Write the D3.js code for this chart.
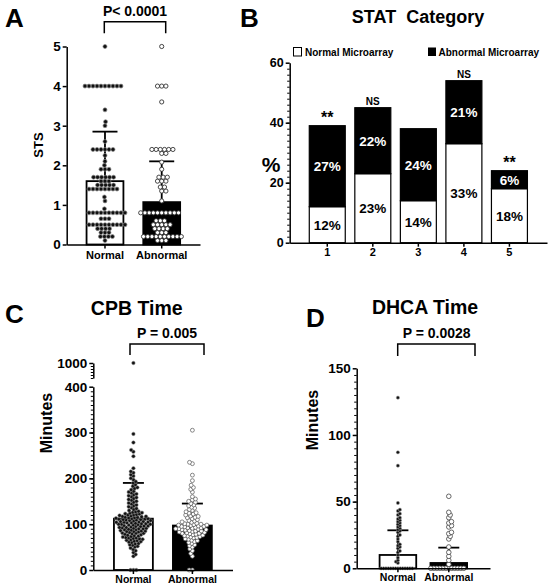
<!DOCTYPE html>
<html>
<head>
<meta charset="utf-8">
<script src="https://cdn.jsdelivr.net/npm/d3@7"></script>
<style>
  body { margin: 0; background: #fff; }
  svg { display: block; }
</style>
</head>
<body>
<svg id="chart" width="550" height="587"></svg>
<script>
// ---- data ----
const groups = ["Normal", "Abnormal"];

// A: STS
const stsNormal = [5, 4,4,4,4,4,4,4,4,4,4, 3.4, 3.1, 3.0, 2.6, 2.4,2.4,2.4,2.4,2.4,2.4, 2.25, 2.1, 2.0,
  1.9,1.9,1.9, 1.7,1.7,1.7,1.7,1.7,1.7, 1.6,1.6,1.6, 1.5,1.5,1.5,1.5,1.5, 1.4,1.4,1.4,1.4,1.4,1.4,1.4,1.4,
  1.2, 1.1, 0.9, 0.8,0.8,0.8,0.8,0.8,0.8,0.8,0.8,0.8,0.8, 0.65,0.65,0.65,
  0.5,0.5,0.5,0.5,0.5,0.5,0.5,0.5,0.5,0.5, 0.4,0.4,0.4,0.4, 0.3,0.3,0.3, 0.2,0.2,0.2,0.2, 0.1];
const stsAbnormal = [5, 4,4,4, 3.6, 2.4,2.4,2.4,2.4,2.4,2.4, 2.3,2.3, 2.08, 1.9, 1.7,1.7,1.7, 1.6,1.6,1.6,
  1.45,1.45, 1.35,1.35, 1.1, 0.8,0.8,0.8,0.8,0.8,0.8,0.8,0.8,0.8,0.8, 0.6,0.6,0.6, 0.5,0.5,0.5,0.5,0.5,
  0.4,0.4,0.4,0.4, 0.3,0.3,0.3, 0.2,0.2,0.2,0.2,0.2,0.2,0.2,0.2,0.2,0.2, 0.1,0.1,0.1];
const stsMean = [1.6, 1.07];
const stsSD = [1.25, 1.03];
const stsTicks = [0, 1, 2, 3, 4, 5];

// B: STAT category
const statCats = ["1", "2", "3", "4", "5"];
const statNormal = [12, 23, 14, 33, 18];
const statAbnormal = [27, 22, 24, 21, 6];
const statSig = ["**", "NS", "", "NS", "**"];
const statTicks = [0, 20, 40, 60];

// C: CPB time
const cpbNormal = [0, 0, 0,
  30, 34, 38, 42, 45, 48, 50, 52, 54, 55, 57, 58, 60, 61, 62, 63, 64, 65, 66, 67, 68, 69, 70, 70, 71, 72, 73,
  74, 75, 76, 77, 78, 79, 80, 80, 81, 82, 83, 84, 84, 85, 85, 86, 87, 88, 88, 89, 90, 90, 91, 91, 92, 93, 93,
  94, 95, 95, 96, 96, 97, 98, 98, 99, 100, 100, 100, 101, 101, 102, 103, 103, 104, 104, 105, 105, 106, 106,
  107, 108, 108, 109, 109, 110, 110, 111, 111, 112, 112, 113, 114, 114, 115, 115, 116, 117, 117, 118, 119,
  120, 120, 121, 122, 123, 124, 125, 126, 127, 128, 130, 132, 134, 136, 138, 140, 142, 144, 146, 148, 150,
  152, 154, 156, 158, 160, 162, 164, 166, 168, 170, 172, 175, 178, 180, 183, 186, 190, 193, 197, 200, 205,
  208, 212, 215, 222, 248, 258, 262, 278, 297, 1000];
const cpbAbnormal = [0, 0,
  30, 36, 42, 46, 50, 53, 55, 58, 60, 62, 64, 65, 67, 68, 70, 71, 72, 73, 74, 75, 76, 77, 78, 79, 80, 80, 81,
  82, 83, 84, 85, 85, 86, 87, 88, 88, 89, 90, 90, 91, 92, 92, 93, 94, 95, 95, 96, 97, 98, 98, 99, 100, 100,
  101, 102, 104, 105, 107, 108, 110, 112, 114, 115, 117, 118, 120, 122, 124, 125, 127, 130, 132, 135, 137,
  140, 142, 145, 148, 150, 153, 155, 160, 170, 176, 180, 185, 195, 207, 232, 235, 305];
const cpbMean = [112, 97];
const cpbSD = [78, 48];
const cpbTicks = [0, 100, 200, 300, 400];
const cpbTopTicks = [1000];

// D: DHCA time
const dhcaNormal = [0,0,0,0,0,0,0,0,0,0,0,0,0,0,
  4, 5, 6, 8, 10, 12, 13, 15, 16, 17, 18, 20, 22, 24, 25, 27, 28, 29, 30, 31, 32, 33, 34, 35, 36, 37, 38,
  40, 41, 43, 44, 49, 77, 87, 128];
const dhcaAbnormal = [0,0,0,0,0,0,0,0,0,0,0,0,
  3, 6, 9, 12, 16, 22, 24, 26, 27, 31, 32, 34, 35, 38, 40, 42, 54];
const dhcaMean = [10, 4];
const dhcaSD = [18.5, 11.5];
const dhcaTicks = [0, 50, 100, 150];

// ---- helpers ----
const F = "'Liberation Sans', Arial, Helvetica, sans-serif";
const svg = d3.select("#chart");

function label(x, y, s, size, anchor, fill) {
  return svg.append("text")
    .attr("x", x).attr("y", y)
    .attr("text-anchor", anchor || "middle")
    .attr("font-family", F).attr("font-weight", "bold")
    .attr("font-size", size)
    .attr("fill", fill || "#000")
    .style("white-space", "pre")
    .text(s);
}

function yLabel(x, y, s, size) {
  svg.append("text")
    .attr("transform", `translate(${x},${y}) rotate(-90)`)
    .attr("text-anchor", "middle")
    .attr("font-family", F).attr("font-weight", "bold")
    .attr("font-size", size)
    .text(s);
}

function bracket(x1, x2, yTop, yBot) {
  svg.append("path")
    .attr("d", `M${x1},${yBot}V${yTop}H${x2}V${yBot}`)
    .attr("fill", "none").attr("stroke", "#000").attr("stroke-width", 1.5);
}

function styleAxis(g, size) {
  g.attr("font-family", F).attr("font-weight", "bold").attr("font-size", size);
  g.selectAll("path, line").attr("stroke", "#000").attr("stroke-width", 1.5);
}

function leftAxis(y, x, ticks, size, minor) {
  const g = svg.append("g").attr("transform", `translate(${x},0)`)
    .call(d3.axisLeft(y).tickValues(ticks).tickSize(4).tickPadding(2).tickSizeOuter(0).tickFormat(d3.format("d")));
  styleAxis(g, size);
  if (minor) {
    const m = svg.append("g").attr("transform", `translate(${x},0)`)
      .call(d3.axisLeft(y).tickValues(minor).tickSize(2.5).tickFormat(""));
    m.select(".domain").remove();
    m.selectAll("line").attr("stroke", "#000").attr("stroke-width", 1);
  }
  return g;
}

function bottomAxis(x, y0, size, pad) {
  const g = svg.append("g").attr("transform", `translate(0,${y0})`)
    .call(d3.axisBottom(x).tickSize(4).tickPadding(pad).tickSizeOuter(0));
  styleAxis(g, size);
  return g;
}

// simple beeswarm: each point takes the free x offset closest to the centre
function swarm(vals, yv, sep) {
  const pts = vals.map(v => ({ v: v, y: yv(v) })).sort((a, b) => b.y - a.y);
  const placed = [];
  pts.forEach((p, k) => {
    const blocks = [];
    placed.forEach(q => {
      const dy = p.y - q.y;
      if (Math.abs(dy) < sep) {
        const dx = Math.sqrt(sep * sep - dy * dy);
        blocks.push([q.x - dx, q.x + dx]);
      }
    });
    const cands = [0];
    blocks.forEach(b => cands.push(b[0], b[1]));
    const flip = k % 2 ? 1 : -1;
    cands.sort((a, b) => Math.abs(a) - Math.abs(b) || flip * (a - b));
    p.x = cands.find(c => blocks.every(b => c <= b[0] + 1e-6 || c >= b[1] - 1e-6));
    placed.push(p);
  });
  return pts;
}

// bar + SD + dots for one scatter-bar panel
function dotPanel(o) {
  const bw = o.x.bandwidth();
  const cx = d => o.x(d) + bw / 2;

  svg.append("g").selectAll("rect").data(groups).join("rect")
    .attr("x", d => o.x(d)).attr("width", bw)
    .attr("y", (d, i) => o.yv(o.mean[i]))
    .attr("height", (d, i) => o.yv(0) - o.yv(o.mean[i]))
    .attr("fill", (d, i) => i ? "#000" : "#fff")
    .attr("stroke", "#000").attr("stroke-width", 1.8);

  const eb = svg.append("g").attr("stroke", "#000").attr("stroke-width", 1.8);
  groups.forEach((d, i) => {
    const top = o.yv(o.mean[i] + o.sd[i]);
    eb.append("line").attr("x1", cx(d)).attr("x2", cx(d))
      .attr("y1", o.yv(o.mean[i])).attr("y2", top);
    eb.append("line").attr("x1", cx(d) - o.cap / 2).attr("x2", cx(d) + o.cap / 2)
      .attr("y1", top).attr("y2", top);
  });

  [o.normal, o.abnormal].forEach((vals, i) => {
    const pts = swarm(vals, o.yv, o.sep[i]);
    svg.append("g").selectAll("circle").data(pts).join("circle")
      .attr("cx", d => cx(groups[i]) + d.x)
      .attr("cy", d => d.y)
      .attr("r", o.r[i])
      .attr("fill", o.fill[i])
      .attr("stroke", o.stroke[i])
      .attr("stroke-width", o.sw[i]);
  });
}

// ---- A: STS ----
const yA = d3.scaleLinear().domain([0, 5]).range([244.5, 46.5]);
const xA = d3.scaleBand().domain(groups).range([66.7, 200]).paddingInner(0.35).paddingOuter(0.35);
dotPanel({ x: xA, yv: yA, normal: stsNormal, abnormal: stsAbnormal, mean: stsMean, sd: stsSD,
  cap: 25, sep: [4.0, 4.2], r: [2, 2.1], fill: ["#111", "#fff"], stroke: ["#8a8a8a", "#333"], sw: [0.7, 0.9] });
leftAxis(yA, 66.7, stsTicks, 13.5);
bottomAxis(xA, 244.5, 11, 3);
yLabel(43, 145, "STS", 13);
label(5, 27, "A", 26, "start");
label(135, 16, "P< 0.0001", 14);
bracket(104.3, 165.7, 21.7, 33.3);

// ---- B: STAT category ----
const yB = d3.scaleLinear().domain([0, 60]).range([242.7, 62.7]);
const xB = d3.scaleBand().domain(statCats).range([289.7, 547]).paddingInner(0.21).paddingOuter(0.43);
const statTable = statCats.map((c, i) => ({ cat: c, normal: statNormal[i], abnormal: statAbnormal[i] }));
const stacked = d3.stack().keys(["normal", "abnormal"])(statTable);

stacked.forEach((layer, li) => {
  svg.append("g").selectAll("rect").data(layer).join("rect")
    .attr("x", d => xB(d.data.cat)).attr("width", xB.bandwidth())
    .attr("y", d => yB(d[1])).attr("height", d => yB(d[0]) - yB(d[1]))
    .attr("fill", li ? "#000" : "#fff")
    .attr("stroke", "#000").attr("stroke-width", 1.2);
  svg.append("g").selectAll("text").data(layer).join("text")
    .attr("x", d => xB(d.data.cat) + xB.bandwidth() / 2)
    .attr("y", d => (yB(d[0]) + yB(d[1])) / 2)
    .attr("dy", "0.36em")
    .attr("text-anchor", "middle")
    .attr("font-family", F).attr("font-weight", "bold").attr("font-size", 13.5)
    .attr("fill", li ? "#fff" : "#000")
    .text(d => (d[1] - d[0]) + "%");
});
statTable.forEach((d, i) => {
  const top = yB(d.normal + d.abnormal);
  const cx = xB(d.cat) + xB.bandwidth() / 2;
  if (statSig[i] === "**") label(cx, top - 2.5, "**", 16);
  else if (statSig[i]) label(cx, top - 2.5, statSig[i], 10);
});
leftAxis(yB, 289.7, statTicks, 12.5, d3.range(2, 60, 2));
bottomAxis(xB, 242.7, 11, 2);
label(271, 172, "%", 21);
label(240, 27, "B", 26, "start");
label(418, 22.7, "STAT  Category", 18);
svg.append("rect").attr("x", 293.5).attr("y", 47.5).attr("width", 8).attr("height", 8.5)
  .attr("fill", "#fff").attr("stroke", "#000").attr("stroke-width", 1);
label(305, 55.5, "Normal Microarray", 10, "start");
svg.append("rect").attr("x", 428).attr("y", 47.5).attr("width", 8).attr("height", 8.5).attr("fill", "#000");
label(438.5, 55.5, "Abnormal Microarray", 10, "start");

// ---- C: CPB time (broken axis) ----
const yC = d3.scaleLinear().domain([0, 400]).range([570, 386.7]);
const yCTop = d3.scaleLinear().domain([500, 1000]).range([378, 363]);
const yCv = v => v > 400 ? yCTop(v) : yC(v);
const xC = d3.scaleBand().domain(groups).range([93.3, 232.5]).paddingInner(0.34).paddingOuter(0.35);
dotPanel({ x: xC, yv: yCv, normal: cpbNormal, abnormal: cpbAbnormal, mean: cpbMean, sd: cpbSD,
  cap: 21, sep: [2.9, 3.2], r: [1.75, 1.95], fill: ["#111", "#fff"], stroke: ["#888", "#555"], sw: [0.5, 0.7] });
leftAxis(yC, 93.3, cpbTicks, 13.5, d3.range(10, 400, 10));
leftAxis(yCTop, 93.3, cpbTopTicks, 13.5, d3.range(500, 1000, 100));
bottomAxis(xC, 570, 10.5, 1.5);
yLabel(52, 423, "Minutes", 16);
label(5, 323, "C", 26, "start");
label(136.7, 315, "CPB Time", 19.5);
label(167, 338, "P = 0.005", 14);
bracket(130, 204, 344, 355);

// ---- D: DHCA time ----
const yD = d3.scaleLinear().domain([0, 150]).range([568.3, 368.3]);
const xD = d3.scaleBand().domain(groups).range([356.7, 490]).paddingInner(0.28).paddingOuter(0.45);
dotPanel({ x: xD, yv: yD, normal: dhcaNormal, abnormal: dhcaAbnormal, mean: dhcaMean, sd: dhcaSD,
  cap: 21, sep: [2.4, 3.0], r: [1.6, 2.3], fill: ["#111", "#fff"], stroke: ["#999", "#444"], sw: [0.5, 0.8] });
leftAxis(yD, 356.7, dhcaTicks, 13.5, d3.range(5, 150, 5));
bottomAxis(xD, 568.3, 10.5, 1.5);
yLabel(318, 420, "Minutes", 16);
label(306, 327, "D", 26, "start");
label(425, 313.5, "DHCA Time", 19.5);
label(436.7, 338, "P = 0.0028", 14);
bracket(397.7, 475, 344, 356);
</script>
</body>
</html>
